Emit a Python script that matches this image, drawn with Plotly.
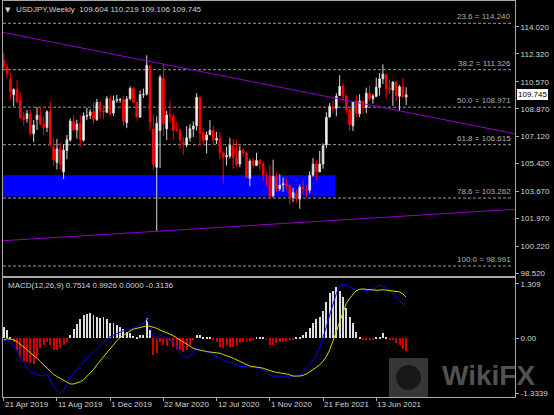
import pandas as pd
import plotly.graph_objects as go

# ---------------- data ----------------
FIRST_WEEK = "2019-04-21"
N_WEEKS = 122
OPEN = [111.92, 111.50, 110.70, 109.75, 110.10, 109.40, 108.35, 108.25, 108.55, 107.30,
        108.20, 108.45, 107.90, 107.70, 108.70, 106.45, 105.50, 106.35, 104.90, 106.25,
        106.90, 108.05, 107.55, 107.95, 106.90, 108.40, 108.45, 108.70, 108.20, 109.25,
        108.75, 108.65, 109.50, 108.60, 109.40, 109.42, 109.45, 108.00, 109.50, 110.15,
        109.25, 108.35, 109.75, 109.80, 111.55, 107.60, 105.20, 107.50, 110.80, 107.60,
        108.50, 108.40, 107.55, 107.50, 106.75, 106.60, 107.05, 107.60, 107.80, 109.60,
        107.35, 106.90, 107.25, 107.50, 106.90, 107.00, 106.10, 105.85, 105.90, 106.55,
        105.80, 105.40, 106.25, 106.10, 104.50, 105.60, 105.30, 105.60, 105.40, 104.70,
        104.65, 103.40, 104.60, 103.85, 104.10, 104.15, 104.05, 103.30, 103.55, 103.20,
        103.95, 103.80, 103.75, 104.70, 105.40, 104.90, 105.40, 106.60, 108.35, 109.00,
        108.90, 109.70, 110.30, 109.65, 108.80, 107.80, 109.35, 108.55, 109.35, 108.95,
        109.85, 109.50, 109.65, 110.20, 110.75, 111.00, 110.15, 110.05, 110.55, 109.65,
        110.25, 109.604]
HIGH = [112.40, 111.69, 111.13, 110.15, 110.68, 109.93, 108.67, 108.80, 108.80, 108.16,
        108.99, 108.99, 108.40, 108.78, 109.32, 107.00, 106.98, 106.74, 106.66, 107.23,
        108.26, 108.48, 108.18, 108.47, 108.63, 108.94, 108.84, 109.29, 109.49, 109.33,
        109.10, 109.67, 109.73, 109.70, 109.73, 109.55, 109.70, 109.67, 110.29, 110.22,
        109.30, 110.02, 110.14, 112.23, 111.60, 108.52, 108.40, 111.00, 111.71, 108.73,
        109.38, 108.55, 108.08, 107.65, 107.10, 107.77, 107.90, 108.08, 109.85, 109.60,
        107.64, 107.44, 108.16, 107.79, 107.43, 107.39, 106.20, 106.48, 107.05, 106.98,
        106.95, 106.55, 106.38, 106.20, 105.70, 105.80, 106.10, 105.75, 105.55, 104.90,
        105.34, 105.67, 104.90, 104.75, 104.55, 104.50, 104.10, 103.90, 103.80, 104.10,
        104.40, 104.08, 104.94, 105.77, 105.65, 106.22, 106.70, 108.65, 109.23, 109.36,
        109.85, 110.97, 110.48, 109.78, 108.90, 109.30, 109.70, 109.79, 109.35, 110.20,
        110.33, 109.80, 110.82, 111.11, 111.66, 111.10, 110.70, 110.59, 110.59, 110.37,
        110.80, 110.219]
LOW = [111.37, 110.80, 109.47, 109.02, 109.26, 108.28, 107.82, 108.00, 107.20, 106.78,
       107.54, 107.80, 107.21, 107.40, 106.50, 105.26, 105.05, 105.05, 104.45, 105.70,
       106.80, 107.45, 107.00, 106.48, 106.80, 108.15, 108.22, 107.89, 108.10, 108.25,
       108.23, 108.60, 108.42, 108.43, 109.25, 109.25, 107.84, 107.65, 109.40, 109.23,
       108.31, 108.30, 109.55, 109.70, 107.51, 105.00, 101.18, 105.15, 107.15, 106.92,
       107.98, 106.93, 107.40, 106.35, 106.00, 106.45, 106.80, 107.10, 107.50, 106.58,
       106.58, 106.07, 107.20, 106.64, 106.65, 105.68, 104.19, 105.30, 105.75, 105.10,
       105.20, 105.20, 105.85, 104.55, 104.00, 105.20, 105.30, 105.00, 104.34, 104.02,
       103.18, 103.30, 103.65, 103.70, 103.65, 103.80, 102.88, 103.00, 102.96, 102.59,
       103.52, 103.33, 103.55, 104.60, 104.44, 104.90, 105.10, 106.40, 108.33, 108.62,
       108.40, 109.70, 109.36, 108.60, 107.48, 107.48, 108.34, 108.35, 108.56, 108.60,
       109.33, 109.19, 109.60, 109.70, 110.42, 109.53, 109.80, 109.06, 109.35, 108.72,
       109.58, 109.106]
CLOSE = [111.56, 111.10, 109.95, 110.07, 109.30, 108.30, 108.19, 108.56, 107.32, 107.85,
         108.47, 107.92, 107.70, 108.68, 106.58, 105.68, 106.35, 105.40, 106.27, 106.92,
         108.10, 107.55, 107.91, 106.94, 108.42, 108.45, 108.67, 108.20, 109.26, 108.78,
         108.67, 109.50, 108.58, 109.38, 109.44, 109.45, 108.10, 109.48, 110.14, 109.28,
         108.35, 109.75, 109.78, 111.60, 108.05, 105.38, 107.95, 110.85, 107.95, 108.48,
         108.45, 107.53, 107.52, 106.92, 106.63, 107.05, 107.62, 107.78, 109.59, 107.35,
         106.87, 107.22, 107.50, 106.92, 107.00, 106.12, 105.83, 105.92, 106.58, 105.80,
         105.37, 106.23, 106.10, 104.56, 105.58, 105.32, 105.62, 105.40, 104.70, 104.66,
         103.35, 104.62, 103.85, 104.08, 104.15, 104.04, 103.32, 103.60, 103.25, 103.94,
         103.85, 103.77, 104.68, 105.39, 104.95, 105.40, 106.55, 108.33, 109.02, 108.86,
         109.65, 110.28, 109.66, 108.78, 107.88, 109.30, 108.60, 109.35, 108.94, 109.85,
         109.50, 109.67, 110.22, 110.75, 111.05, 110.12, 110.07, 110.55, 109.70, 110.25,
         109.60, 109.745]

MACD_HIST = [0.27, 0.20, 0.02, -0.08, -0.28, -0.46, -0.54, -0.56, -0.60, -0.62,
             -0.46, -0.24, -0.16, -0.08, -0.16, -0.28, -0.28, -0.24, -0.16, -0.08,
             0.08, 0.22, 0.35, 0.46, 0.56, 0.59, 0.60, 0.56, 0.52, 0.48,
             0.52, 0.46, 0.38, 0.36, 0.32, 0.28, 0.22, 0.16, 0.12, 0.06,
             0.04, 0.08, 0.08, 0.48, 0.20, -0.40, -0.35, -0.08, -0.16, -0.18,
             -0.06, -0.20, -0.26, -0.28, -0.32, -0.28, -0.16, -0.04, 0.08, 0.08,
             0.02, 0.02, 0.02, -0.04, -0.08, -0.20, -0.24, -0.16, -0.20, -0.22,
             -0.16, -0.12, -0.08, -0.08, -0.06, -0.02, 0.02, 0.01, 0.02, -0.04,
             -0.16, -0.16, -0.12, -0.10, -0.08, -0.06, -0.04, -0.04, 0.02, 0.03,
             0.08, 0.16, 0.24, 0.36, 0.46, 0.52, 0.67, 0.88, 1.08, 1.15,
             1.23, 1.13, 1.00, 0.72, 0.52, 0.36, 0.16, 0.04, -0.04, -0.04,
             -0.04, -0.04, 0.04, 0.04, 0.12, 0.04, -0.02, -0.04, -0.12, -0.16,
             -0.26, -0.3136]
MACD_LINE = [-0.04, -0.06, -0.08, -0.18, -0.32, -0.46, -0.60, -0.71, -0.80, -0.85,
             -0.88, -0.89, -0.91, -0.86, -1.00, -1.16, -1.23, -1.33, -1.25, -1.08,
             -0.92, -0.84, -0.76, -0.68, -0.56, -0.48, -0.40, -0.32, -0.24, -0.16,
             -0.08, -0.02, 0.04, 0.08, 0.12, 0.16, 0.18, 0.22, 0.22, 0.25,
             0.27, 0.32, 0.36, 0.48, 0.24, 0.04, -0.04, 0.08, 0.04, 0.00,
             -0.04, -0.08, -0.20, -0.35, -0.43, -0.46, -0.43, -0.32, -0.24, -0.28,
             -0.30, -0.32, -0.36, -0.40, -0.44, -0.48, -0.54, -0.56, -0.59, -0.60,
             -0.64, -0.68, -0.68, -0.68, -0.70, -0.70, -0.71, -0.72, -0.76, -0.80,
             -0.88, -0.91, -0.91, -0.91, -0.91, -0.91, -0.92, -0.92, -0.91, -0.88,
             -0.80, -0.72, -0.64, -0.52, -0.40, -0.24, 0.00, 0.28, 0.56, 0.84,
             1.08, 1.24, 1.309, 1.29, 1.23, 1.20, 1.16, 1.18, 1.16, 1.15,
             1.16, 1.18, 1.23, 1.29, 1.26, 1.20, 1.16, 1.07, 0.96, 0.91,
             0.84, 0.7514]
SIGNAL_LINE = [-0.04, -0.01, -0.02, -0.04, -0.08, -0.14, -0.20, -0.27, -0.35, -0.41,
               -0.48, -0.56, -0.64, -0.72, -0.80, -0.87, -0.92, -0.97, -1.02, -1.07,
               -1.10, -1.10, -1.08, -1.05, -1.00, -0.92, -0.84, -0.75, -0.64, -0.54,
               -0.44, -0.35, -0.24, -0.14, -0.06, 0.02, 0.08, 0.14, 0.18, 0.22,
               0.24, 0.27, 0.28, 0.30, 0.29, 0.27, 0.24, 0.20, 0.17, 0.14,
               0.10, 0.06, 0.01, -0.04, -0.10, -0.16, -0.20, -0.24, -0.27, -0.28,
               -0.30, -0.32, -0.33, -0.35, -0.35, -0.36, -0.39, -0.43, -0.45, -0.48,
               -0.52, -0.56, -0.60, -0.64, -0.67, -0.68, -0.69, -0.70, -0.72, -0.75,
               -0.78, -0.80, -0.82, -0.83, -0.84, -0.86, -0.88, -0.91, -0.91, -0.91,
               -0.89, -0.86, -0.81, -0.76, -0.70, -0.64, -0.55, -0.44, -0.28, -0.08,
               0.16, 0.40, 0.64, 0.84, 0.96, 1.07, 1.15, 1.18, 1.19, 1.18,
               1.17, 1.16, 1.16, 1.16, 1.17, 1.16, 1.15, 1.15, 1.14, 1.12,
               1.07, 0.9926]

PRICE_TICKS = [114.020, 112.320, 110.570, 108.870, 107.120, 105.420, 103.670, 101.970, 100.220, 98.520]
MACD_TICKS = [1.309, 0.0, -1.3339]
MACD_TICK_TEXT = ["1.309", "0.00", "-1.3339"]
DATE_TICKS = ["2019-04-21", "2019-08-11", "2019-12-01", "2020-03-22",
              "2020-07-12", "2020-11-01", "2021-02-21", "2021-06-13"]
DATE_TICK_TEXT = ["21 Apr 2019", "11 Aug 2019", "1 Dec 2019", "22 Mar 2020",
                  "12 Jul 2020", "1 Nov 2020", "21 Feb 2021", "13 Jun 2021"]

FIB_LEVELS = [23.6, 38.2, 50.0, 61.8, 78.6, 100.0]
FIB_PRICES = [114.240, 111.326, 108.971, 106.615, 103.262, 98.991]

ZONE_DATES = ["2019-01-06", "2021-03-19"]
ZONE_PRICES = [103.35, 104.69]
TREND_UPPER_DATES = ["2019-04-14", "2022-04-03"]
TREND_UPPER_PRICES = [113.70, 107.29]
TREND_LOWER_DATES = ["2019-04-14", "2022-04-03"]
TREND_LOWER_PRICES = [100.57, 102.56]

TITLE_TEXT = "USDJPY,Weekly  109.604 110.219 109.106 109.745"
MACD_LABEL = "MACD(12,26,9) 0.7514 0.9926 0.0000 -0.3136"
LAST_PRICE = 109.745

dates = pd.date_range(FIRST_WEEK, periods=N_WEEKS, freq="7D")

# ---------------- layout geometry (pixels) ----------------
W, H = 554, 415
L, R, T, B = 3, 39, 1, 18
PW, PH = W - L - R, H - T - B
MAIN_TOP, MAIN_BOT = 1, 276
MACD_TOP, MACD_BOT = 278, 397


def py(y):  # pixel y -> paper
    return (H - B - y) / PH


def px(x):
    return (x - L) / PW


FONT = "Liberation Sans, Arial, sans-serif"
FG = "#d4d4d4"
FRAME = "#a8a8a8"

fig = go.Figure()

fig.add_trace(go.Candlestick(
    x=dates, open=OPEN, high=HIGH, low=LOW, close=CLOSE,
    increasing=dict(line=dict(color="#d8d8d8", width=1), fillcolor="#ffffff"),
    decreasing=dict(line=dict(color="#ff0000", width=1), fillcolor="#ff0000"),
    whiskerwidth=0, xaxis="x", yaxis="y", showlegend=False, hoverinfo="skip"))

hist_colors = ["#dcdcdc" if v >= 0 else "#d00000" for v in MACD_HIST]
fig.add_trace(go.Bar(
    x=dates, y=MACD_HIST, marker=dict(color=hist_colors, line=dict(width=0)),
    width=2.0 * 86400000, xaxis="x2", yaxis="y2", showlegend=False, hoverinfo="skip"))
fig.add_trace(go.Scatter(
    x=dates, y=MACD_LINE, mode="lines", line=dict(color="#0000ff", width=1),
    xaxis="x2", yaxis="y2", showlegend=False, hoverinfo="skip"))
fig.add_trace(go.Scatter(
    x=dates, y=SIGNAL_LINE, mode="lines", line=dict(color="#d8d800", width=1),
    xaxis="x2", yaxis="y2", showlegend=False, hoverinfo="skip"))

x_start = "2019-04-19 12:00"
x_end = "2022-04-01"

ppu = (266.0 - 23.3) / (FIB_PRICES[0] - FIB_PRICES[-1])
p_top = FIB_PRICES[0] + (23.3 - MAIN_TOP) / ppu
p_bot = FIB_PRICES[0] - (MAIN_BOT - 23.3) / ppu

shapes = []
shapes.append(dict(type="rect", xref="x", yref="y", x0=ZONE_DATES[0], x1=ZONE_DATES[1],
                   y0=ZONE_PRICES[0], y1=ZONE_PRICES[1], fillcolor="#0000ff",
                   line=dict(width=0), layer="below"))
for p in FIB_PRICES:
    shapes.append(dict(type="line", xref="x domain", yref="y", x0=0, x1=0.996, y0=p, y1=p,
                       line=dict(color="#9a9a9a", width=1, dash="3px,2px"), layer="below"))
shapes.append(dict(type="line", xref="x", yref="y",
                   x0=TREND_UPPER_DATES[0], x1=TREND_UPPER_DATES[1],
                   y0=TREND_UPPER_PRICES[0], y1=TREND_UPPER_PRICES[1],
                   line=dict(color="#9000d0", width=1)))
shapes.append(dict(type="line", xref="x", yref="y",
                   x0=TREND_LOWER_DATES[0], x1=TREND_LOWER_DATES[1],
                   y0=TREND_LOWER_PRICES[0], y1=TREND_LOWER_PRICES[1],
                   line=dict(color="#9000d0", width=1)))
# watermark logo
shapes.append(dict(type="rect", xref="paper", yref="paper", x0=px(389), x1=px(428),
                   y0=py(397), y1=py(358), fillcolor="rgba(120,120,120,0.45)",
                   line=dict(width=0)))
shapes.append(dict(type="circle", xref="paper", yref="paper",
                   x0=px(396), x1=px(421), y0=py(390), y1=py(365),
                   fillcolor="rgba(0,0,0,0.55)", line=dict(width=0)))

annotations = []
for lvl, p in zip(FIB_LEVELS, FIB_PRICES):
    annotations.append(dict(xref="x domain", yref="y", x=0.996, y=p, xanchor="right",
                            yanchor="bottom", showarrow=False,
                            text=f"{lvl:.1f} = {p:.3f}",
                            font=dict(family=FONT, size=8, color="#b0b0b0")))
for d, t in zip(DATE_TICKS, DATE_TICK_TEXT):
    annotations.append(dict(xref="x2", yref="paper", x=d, y=py(405), xanchor="left",
                            yanchor="middle", xshift=-1, showarrow=False, text=t,
                            font=dict(family=FONT, size=8, color=FG)))
annotations.append(dict(xref="paper", yref="paper", x=px(3), y=py(10), xanchor="left",
                        yanchor="middle", showarrow=False, text="\u25BC",
                        font=dict(family="DejaVu Sans", size=7, color=FG)))
annotations.append(dict(xref="paper", yref="paper", x=px(14), y=py(10), xanchor="left",
                        yanchor="middle", showarrow=False, text=TITLE_TEXT,
                        font=dict(family=FONT, size=8, color=FG)))
annotations.append(dict(xref="paper", yref="paper", x=px(6), y=py(285), xanchor="left",
                        yanchor="middle", showarrow=False, text=MACD_LABEL,
                        font=dict(family=FONT, size=8, color=FG)))
annotations.append(dict(xref="paper", yref="y", x=px(517), y=LAST_PRICE, xanchor="left",
                        yanchor="middle", showarrow=False, text=f"{LAST_PRICE:.3f}",
                        bgcolor="#ffffff", bordercolor="#ffffff", borderpad=0,
                        font=dict(family=FONT, size=8, color="#000000")))
annotations.append(dict(xref="paper", yref="paper", x=px(488), y=py(375), xanchor="center",
                        yanchor="middle", showarrow=False, text="<b>WikiFX</b>",
                        font=dict(family=FONT, size=28, color="rgba(110,110,110,0.75)")))

axis_common = dict(showgrid=False, zeroline=False, showline=True, mirror=True,
                   linecolor=FRAME, linewidth=1, automargin=False)

fig.update_layout(
    width=W, height=H,
    margin=dict(l=L, r=R, t=T, b=B, autoexpand=False),
    paper_bgcolor="#000000", plot_bgcolor="#000000",
    showlegend=False, hovermode=False, bargap=0,
    xaxis=dict(domain=[0, 1], anchor="y", range=[x_start, x_end], type="date",
               showticklabels=False, ticks="", rangeslider=dict(visible=False),
               **axis_common),
    yaxis=dict(domain=[py(MAIN_BOT), py(MAIN_TOP)], anchor="x", side="right",
               range=[p_bot, p_top], tickvals=PRICE_TICKS,
               ticktext=[f"{v:.3f}" for v in PRICE_TICKS],
               ticks="outside", ticklen=3, tickcolor=FRAME,
               tickfont=dict(family=FONT, size=8, color=FG), **axis_common),
    xaxis2=dict(domain=[0, 1], anchor="y2", matches="x", type="date",
                tickvals=DATE_TICKS, showticklabels=False,
                ticks="outside", ticklen=3, tickcolor=FRAME, **axis_common),
    yaxis2=dict(domain=[py(MACD_BOT), py(MACD_TOP)], anchor="x2", side="right",
                range=[-1.414, 1.453], tickvals=MACD_TICKS, ticktext=MACD_TICK_TEXT,
                ticks="outside", ticklen=3, tickcolor=FRAME,
                tickfont=dict(family=FONT, size=8, color=FG), **axis_common),
    shapes=shapes, annotations=annotations,
)

fig.write_html("out.html", config=dict(displayModeBar=False),
               post_script="document.body.style.margin='0';document.body.style.background='#000';")
